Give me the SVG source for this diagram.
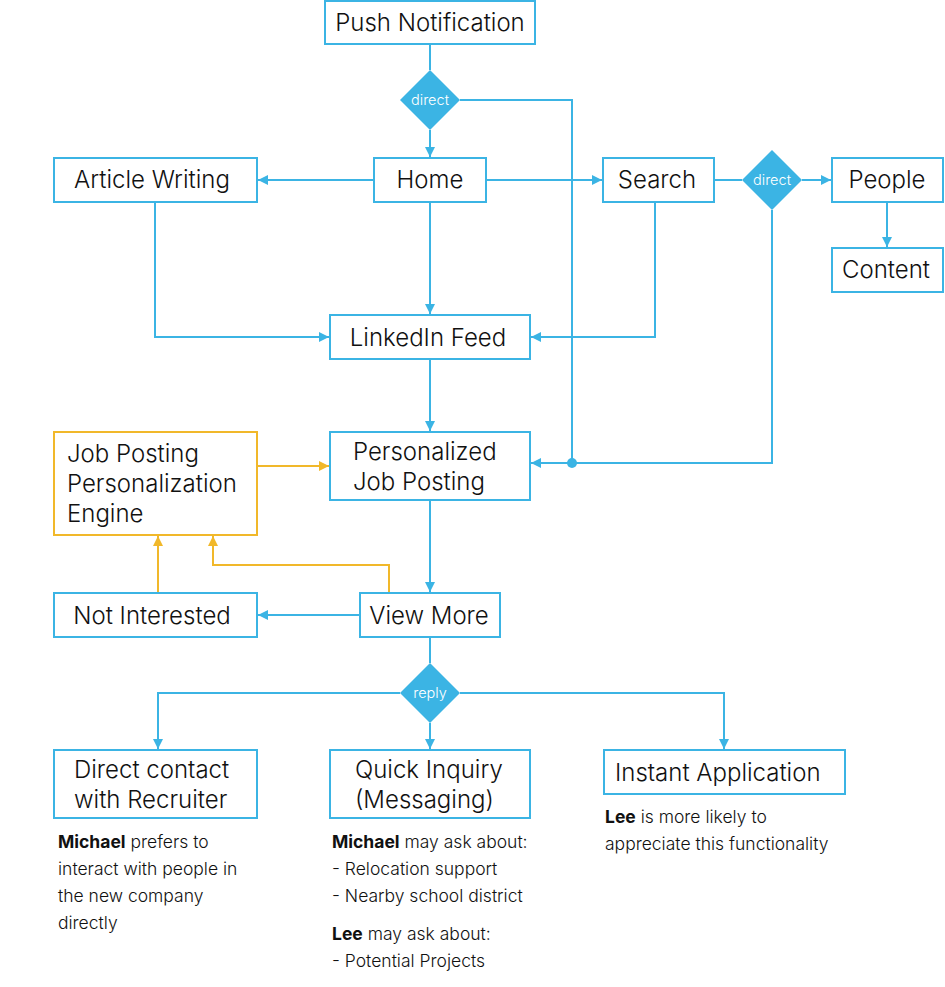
<svg xmlns="http://www.w3.org/2000/svg" width="945" height="987" viewBox="0 0 945 987">
<style>
.box{fill:#fff;stroke:#3bb4e4;stroke-width:2}
.obox{fill:#fff;stroke:#f1b82a;stroke-width:2}
.t{font-family:Inter,Roboto,"Liberation Sans",sans-serif;font-size:24px;fill:#111;font-weight:300}
.c{text-anchor:middle}
.dia{fill:#3bb4e4}
.dt{font-family:Inter,Roboto,"Liberation Sans",sans-serif;font-size:14.5px;fill:#fff;text-anchor:middle;font-weight:300}
.ln{fill:none;stroke:#3bb4e4;stroke-width:2}
.oln{fill:none;stroke:#f1b82a;stroke-width:2}
.n{font-family:Inter,Roboto,"Liberation Sans",sans-serif;font-size:17.5px;fill:#111;font-weight:300}
.b{font-weight:bold}
</style>
<defs>
<marker id="ab" viewBox="0 0 10 10" refX="10" refY="5" markerWidth="10" markerHeight="10" markerUnits="userSpaceOnUse" orient="auto"><path d="M0,0L10,5L0,10z" fill="#3bb4e4"/></marker>
<marker id="ao" viewBox="0 0 10 10" refX="10" refY="5" markerWidth="10" markerHeight="10" markerUnits="userSpaceOnUse" orient="auto"><path d="M0,0L10,5L0,10z" fill="#f1b82a"/></marker>
</defs>
<g id="connectors">
<path class="ln" d="M430,44V70"/>
<path class="ln" d="M430,130V157" marker-end="url(#ab)"/>
<path class="ln" d="M460,100H572V463"/>
<circle cx="572" cy="463" r="5" fill="#3bb4e4"/>
<path class="ln" d="M374,180H258" marker-end="url(#ab)"/>
<path class="ln" d="M486,180H602" marker-end="url(#ab)"/>
<path class="ln" d="M714,180H742"/>
<path class="ln" d="M802,180H831" marker-end="url(#ab)"/>
<path class="ln" d="M887,202V247" marker-end="url(#ab)"/>
<path class="ln" d="M772,210V463H531" marker-end="url(#ab)"/>
<path class="ln" d="M155,202V337H329" marker-end="url(#ab)"/>
<path class="ln" d="M430,202V314" marker-end="url(#ab)"/>
<path class="ln" d="M655,202V337H531" marker-end="url(#ab)"/>
<path class="ln" d="M430,359V431" marker-end="url(#ab)"/>
<path class="oln" d="M257,466H329" marker-end="url(#ao)"/>
<path class="ln" d="M430,500V592" marker-end="url(#ab)"/>
<path class="ln" d="M360,615H258" marker-end="url(#ab)"/>
<path class="oln" d="M158,593V536" marker-end="url(#ao)"/>
<path class="oln" d="M389,593V565H213V536" marker-end="url(#ao)"/>
<path class="ln" d="M430,637V663"/>
<path class="ln" d="M400,693H158V749" marker-end="url(#ab)"/>
<path class="ln" d="M430,723V749" marker-end="url(#ab)"/>
<path class="ln" d="M460,693H724V749" marker-end="url(#ab)"/>
</g>
<g id="push"><rect class="box" x="325" y="1" width="210" height="43"/><text class="t c" x="430" y="31">Push Notification</text></g>
<g id="d1"><path class="dia" d="M430,70L460,100L430,130L400,100z"/><text class="dt" x="430" y="105">direct</text></g>
<g id="article"><rect class="box" x="54" y="158" width="203" height="44"/><text class="t c" x="152" y="188">Article Writing</text></g>
<g id="home"><rect class="box" x="374" y="158" width="112" height="44"/><text class="t c" x="430" y="188">Home</text></g>
<g id="search"><rect class="box" x="603" y="158" width="111" height="44"/><text class="t c" x="657" y="188">Search</text></g>
<g id="d2"><path class="dia" d="M772,150L802,180L772,210L742,180z"/><text class="dt" x="772" y="185">direct</text></g>
<g id="people"><rect class="box" x="832" y="158" width="111" height="44"/><text class="t c" x="887" y="188">People</text></g>
<g id="content"><rect class="box" x="832" y="248" width="111" height="44"/><text class="t c" x="886" y="278">Content</text></g>
<g id="feed"><rect class="box" x="330" y="315" width="200" height="44"/><text class="t c" x="428" y="346">LinkedIn Feed</text></g>
<g id="pjp"><rect class="box" x="330" y="432" width="200" height="68"/><text class="t" x="353" y="460">Personalized</text><text class="t" x="353" y="490">Job Posting</text></g>
<g id="engine"><rect class="obox" x="54" y="432" width="203" height="103"/><text class="t" x="67" y="462">Job Posting</text><text class="t" x="67" y="492">Personalization</text><text class="t" x="67" y="522">Engine</text></g>
<g id="notint"><rect class="box" x="54" y="593" width="203" height="44"/><text class="t c" x="152" y="624">Not Interested</text></g>
<g id="viewmore"><rect class="box" x="360" y="593" width="140" height="44"/><text class="t c" x="429" y="624">View More</text></g>
<g id="d3"><path class="dia" d="M430,663L460,693L430,723L400,693z"/><text class="dt" x="430" y="698">reply</text></g>
<g id="direct"><rect class="box" x="54" y="750" width="203" height="68"/><text class="t" x="74" y="778">Direct contact</text><text class="t" x="74" y="808">with Recruiter</text></g>
<g id="quick"><rect class="box" x="330" y="750" width="200" height="68"/><text class="t" x="355" y="778">Quick Inquiry</text><text class="t" x="355" y="808">(Messaging)</text></g>
<g id="instant"><rect class="box" x="604" y="750" width="241" height="44"/><text class="t" x="615" y="781">Instant Application</text></g>
<g id="notes">
<text class="n" x="58" y="848"><tspan class="b">Michael</tspan> prefers to</text>
<text class="n" x="58" y="875">interact with people in</text>
<text class="n" x="58" y="902">the new company</text>
<text class="n" x="58" y="929">directly</text>
<text class="n" x="332" y="848"><tspan class="b">Michael</tspan> may ask about:</text>
<text class="n" x="332" y="875">- Relocation support</text>
<text class="n" x="332" y="902">- Nearby school district</text>
<text class="n" x="332" y="940"><tspan class="b">Lee</tspan> may ask about:</text>
<text class="n" x="332" y="967">- Potential Projects</text>
<text class="n" x="605" y="823"><tspan class="b">Lee</tspan> is more likely to</text>
<text class="n" x="605" y="850">appreciate this functionality</text>
</g>
</svg>
